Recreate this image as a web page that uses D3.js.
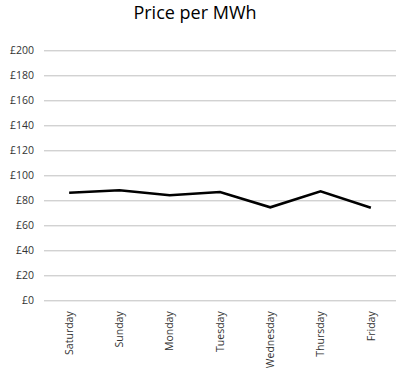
<!DOCTYPE html>
<html><head><meta charset="utf-8">
<script src="https://cdn.jsdelivr.net/npm/d3@7"></script>
<style>body{margin:0;background:#fff}</style>
</head><body>
<svg id="c" width="417" height="378"></svg>
<script>
const categories = ["Saturday","Sunday","Monday","Tuesday","Wednesday","Thursday","Friday"];
const prices = [86, 88, 84, 86.6, 74.4, 87.2, 74];
const yTicks = [0,20,40,60,80,100,120,140,160,180,200];
const title = "Price per MWh";

const svg = d3.select("#c");
const font = "'Open Sans', sans-serif";
const m = {left:44, right:21, top:50.3, bottom:77.7};
const W = 417, H = 378;
const x = d3.scaleBand().domain(categories).range([m.left, W - m.right]);
const y = d3.scaleLinear().domain([0,200]).range([H - m.bottom, m.top]);

svg.append("text").attr("x", 195).attr("y", 19).attr("text-anchor","middle")
  .attr("font-family", font).attr("font-size", 18).attr("fill","#000").text(title);

const gy = svg.append("g").attr("transform", `translate(${m.left},0)`)
  .call(d3.axisLeft(y).tickValues(yTicks).tickSize(-(W - m.left - m.right)).tickPadding(10).tickFormat(d => "£" + d));
gy.select(".domain").remove();
gy.selectAll(".tick line").attr("stroke","#bfbfbf").attr("stroke-width",1);
gy.selectAll(".tick text").attr("font-family", font).attr("font-size", 10.5).attr("fill","#333");

const gx = svg.append("g").attr("transform", `translate(0,${H - m.bottom})`)
  .call(d3.axisBottom(x).tickSize(0).tickPadding(0));
gx.select(".domain").remove();
gx.selectAll(".tick text").attr("font-family", font).attr("font-size", 10.5).attr("fill","#333")
  .attr("text-anchor","end").attr("transform","rotate(-90)")
  .attr("x", -11).attr("y", 0).attr("dy","0.35em");

const line = d3.line().x((d,i) => x(categories[i]) + x.bandwidth()/2).y(d => y(d));
svg.append("path").datum(prices).attr("d", line).attr("fill","none")
  .attr("stroke","#000").attr("stroke-width",2.6).attr("stroke-linejoin","miter");
</script>
</body></html>
